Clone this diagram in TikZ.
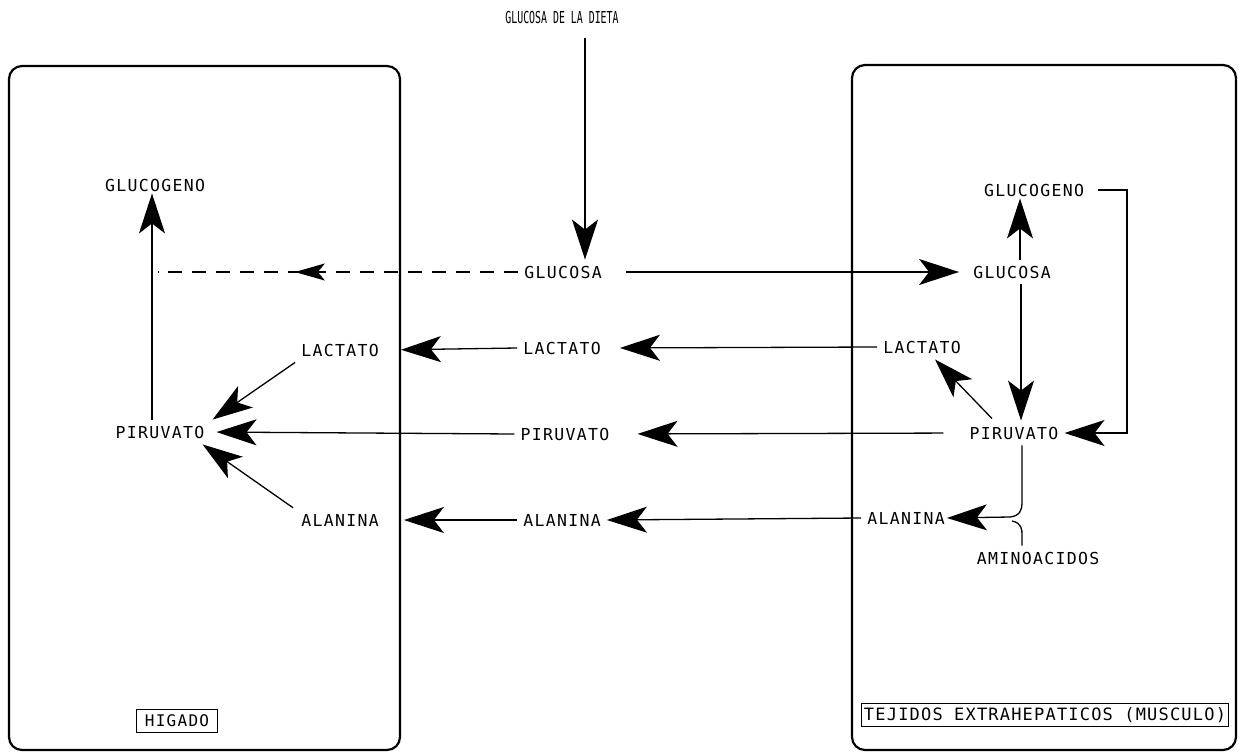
\documentclass[tikz,border=0pt]{standalone}
\usepackage{fontspec}
\usetikzlibrary{arrows.meta,decorations.markings}
\newfontfamily\labfont[LetterSpace=8]{DejaVu Sans Mono}
\newfontfamily\titfont[FakeStretch=0.6]{DejaVu Sans Mono}
\newfontfamily\tejfont[LetterSpace=7]{DejaVu Sans Mono}
\tikzset{
  lab/.style={font=\labfont\fontsize{16.5}{18}\selectfont, inner sep=6pt},
  organ/.style={draw, line width=2.2pt, rounded corners=13pt},
  thin/.style={line width=1.3pt},
  big/.style={thin, -{Stealth[length=40pt,width=26pt,inset=10pt]}},
  tag/.style={draw, line width=1pt},
}
\begin{document}
\begin{tikzpicture}[x=1pt,y=-1pt]
\useasboundingbox (0,0) rectangle (1239,753);
% organ boxes
\draw[organ] (9,66) rectangle (400,750);
\draw[organ] (852,65) rectangle (1236,750);
% labels
\node[font=\titfont\fontsize{16.5}{18}\selectfont] (title) at (562,17) {GLUCOSA DE LA DIETA};
\node[lab] (lgn) at (155,185) {GLUCOGENO};
\node[lab] (lla) at (340,350) {LACTATO};
\node[lab] (lpi) at (160,432) {PIRUVATO};
\node[lab] (lal) at (340,520) {ALANINA};
\node[lab] (mgl) at (563,272) {GLUCOSA};
\node[lab] (mla) at (562,348) {LACTATO};
\node[lab] (mpi) at (565,434) {PIRUVATO};
\node[lab] (mal) at (562,520) {ALANINA};
\node[lab] (rgn) at (1034,190) {GLUCOGENO};
\node[lab] (rgl) at (1012,272) {GLUCOSA};
\node[lab] (rla) at (922,347) {LACTATO};
\node[lab] (rpi) at (1014,433) {PIRUVATO};
\node[lab] (ral) at (906,518) {ALANINA};
\node[lab] (ram) at (1038,558) {AMINOACIDOS};
\node[tag, font=\labfont\fontsize{16}{18}\selectfont, inner xsep=8pt, inner ysep=5pt] (hig) at (177,721) {HIGADO};
\node[tag, font=\tejfont\fontsize{17}{19}\selectfont, inner xsep=2pt, inner ysep=4pt] (tej) at (1045,715) {TEJIDOS EXTRAHEPATICOS (MUSCULO)};
% coordinates
\coordinate (dtop) at (585,38);
\coordinate (dl) at (158,274);
\coordinate (rc) at (1127,0);
% dietary glucose
\draw[big] (dtop) -- (dtop |- mgl.north);
% glucose to muscle
\draw[big, shorten <=18pt, shorten >=8pt] (mgl.east) -- (rgl.west);
% glucose to liver (dashed)
\draw[thin, dash pattern=on 14pt off 10pt,
  postaction={decorate, decoration={markings, mark=at position 0.62 with {\arrow{Stealth[length=30pt,width=17pt,inset=7pt]}}}}]
  (mgl.west) -- (dl |- mgl.west);
% liver
\draw[big, shorten >=-4pt] ([xshift=-8pt]lpi.north) -- ([xshift=-3pt]lgn.south);
\draw[big] (lla.south west) -- ([xshift=2pt]lpi.north east);
\draw[big] ([xshift=-2pt]lal.north west) -- ([xshift=-8pt]lpi.south east);
\draw[big, shorten >=16pt] (mla.west) -- (lla.east);
\draw[big, shorten >=6pt] (mpi.west) -- (lpi.east);
\draw[big, shorten >=19pt] (mal.west) -- (lal.east);
% muscle to blood
\draw[big, shorten >=13pt] (rla.west) -- (mla.east);
\draw[big, shorten <=20pt, shorten >=22pt] (rpi.west) -- (mpi.east);
\draw[big] (ral.west) -- (mal.east);
% muscle
\draw[big] ([xshift=8pt]rgl.north) -- ([xshift=-14pt,yshift=4pt]rgn.south);
\draw[big] ([xshift=9pt]rgl.south) -- ([xshift=7pt]rpi.north);
\draw[big] ([xshift=8pt]rgn.east) -- (rgn.east -| rc) -- (rpi.east -| rc) -- (rpi.east);
\draw[big] ([xshift=-22pt,yshift=2pt]rpi.north) -- ([xshift=13pt]rla.south);
\draw[big] ([xshift=8pt]rpi.south) -- ++(0,58) .. controls ++(0,6) and (1020,516) .. (1010,517) -- ([xshift=-4pt]ral.east);
\draw[thin] ([xshift=-16pt]ram.north) -- ++(0,-10) .. controls ++(0,-6) and (1022,523) .. (1012,521);
\end{tikzpicture}
\end{document}
